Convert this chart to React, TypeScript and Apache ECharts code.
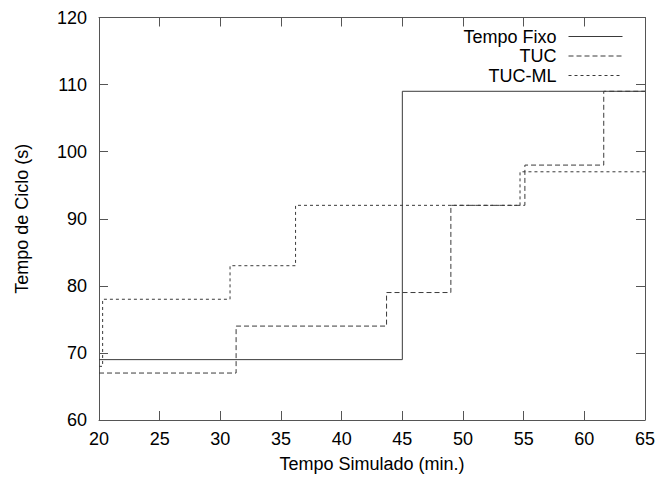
import React, { useEffect, useRef } from "react";
import * as echarts from "echarts";

const seriesNames = ["Tempo Fixo", "TUC", "TUC-ML"];
const tempoFixo: [number, number][] = [[20, 69], [45, 109], [65, 109]];
const tuc: [number, number][] = [[20, 67], [31.3, 74], [43.7, 79], [49.0, 92], [55.1, 98], [61.6, 109], [65, 109]];
const tucMl: [number, number][] = [[20, 68], [20.3, 78], [30.8, 83], [36.2, 92], [54.7, 97], [65, 97]];
const xTicks = { min: 20, max: 65, interval: 5 };
const yTicks = { min: 60, max: 120, interval: 10 };
const xTitle = "Tempo Simulado (min.)";
const yTitle = "Tempo de Ciclo (s)";

const FONT = "'Liberation Sans', Arial, Helvetica, sans-serif";
const FS = 18;
const FRAME = "#555";
const LINE = "#3a3a3a";

export default function App() {
  const ref = useRef<HTMLDivElement>(null);
  useEffect(() => {
    if (!ref.current) return;
    const chart = echarts.init(ref.current, undefined, { renderer: "svg" });
    const axisCommon = {
      type: "value" as const,
      axisLine: { show: true, lineStyle: { color: FRAME, width: 1 } },
      axisTick: { show: true, inside: true, length: 9, lineStyle: { color: FRAME, width: 1 } },
      splitLine: { show: false },
    };
    const mkSeries = (name: string, data: [number, number][], dash: any) => ({
      name,
      type: "line" as const,
      step: "end" as const,
      data,
      symbol: "none",
      lineStyle: { color: LINE, width: 1, type: dash },
      itemStyle: { color: LINE },
      xAxisIndex: 0,
      yAxisIndex: 0,
    });
    chart.setOption({
      animation: false,
      backgroundColor: "#fff",
      textStyle: { fontFamily: FONT },
      grid: { left: 99, right: 14, top: 17.5, bottom: 57.3, containLabel: false },
      legend: {
        orient: "vertical",
        align: "right",
        right: 36,
        top: 27.5,
        padding: 0,
        itemGap: 1.5,
        itemWidth: 54,
        itemHeight: 14,
        data: seriesNames,
        itemStyle: { opacity: 0 },
        lineStyle: { width: 1 },
        textStyle: { fontFamily: FONT, fontSize: FS, color: "#000", padding: [0, 7, 0, 0] },
      },
      xAxis: [
        {
          ...axisCommon,
          ...xTicks,
          position: "bottom",
          name: xTitle,
          nameLocation: "middle",
          nameGap: 35,
          nameTextStyle: { fontFamily: FONT, fontSize: FS, color: "#000" },
          axisLabel: { fontFamily: FONT, fontSize: FS, color: "#000", margin: 10 },
        },
        {
          ...axisCommon,
          ...xTicks,
          position: "top",
          axisLabel: { show: false },
        },
      ],
      yAxis: [
        {
          ...axisCommon,
          ...yTicks,
          position: "left",
          name: yTitle,
          nameLocation: "middle",
          nameGap: 68,
          nameTextStyle: { fontFamily: FONT, fontSize: FS, color: "#000" },
          axisLabel: { fontFamily: FONT, fontSize: FS, color: "#000", margin: 12 },
        },
        {
          ...axisCommon,
          ...yTicks,
          position: "right",
          axisLabel: { show: false },
        },
      ],
      series: [
        mkSeries(seriesNames[0], tempoFixo, "solid"),
        mkSeries(seriesNames[1], tuc, [5, 3]),
        mkSeries(seriesNames[2], tucMl, [3, 3]),
      ],
    });
    return () => chart.dispose();
  }, []);
  return (
    <div
      ref={ref}
      style={{ position: "absolute", left: 0, top: 0, width: 659, height: 478, background: "#fff" }}
    />
  );
}
